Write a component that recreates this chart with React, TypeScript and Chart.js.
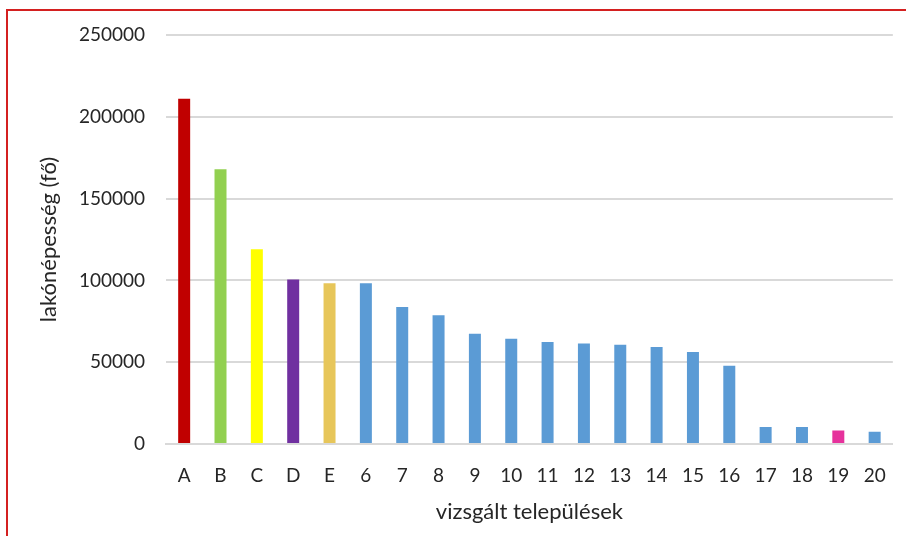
import React, { useEffect, useRef } from "react";
import { Chart, registerables } from "chart.js";

Chart.register(...registerables);

const categories = ["A", "B", "C", "D", "E", "6", "7", "8", "9", "10", "11", "12", "13", "14", "15", "16", "17", "18", "19", "20"];
const population = [211000, 168000, 119000, 100500, 98200, 98200, 83800, 78700, 67400, 64400, 62300, 61500, 60700, 59300, 56200, 47900, 10400, 10400, 8300, 7500];
const barColors = ["#C00000", "#92D050", "#FFFF00", "#7030A0", "#E7C65A", "#5B9BD5", "#5B9BD5", "#5B9BD5", "#5B9BD5", "#5B9BD5", "#5B9BD5", "#5B9BD5", "#5B9BD5", "#5B9BD5", "#5B9BD5", "#5B9BD5", "#5B9BD5", "#5B9BD5", "#E6329C", "#5B9BD5"];
const yTitle = "lakónépesség (fő)";
const xTitle = "vizsgált települések";
const yMax = 250000;
const yStep = 50000;

export default function App() {
  const ref = useRef<HTMLCanvasElement | null>(null);
  useEffect(() => {
    if (!ref.current) return;
    const font = "Lato";
    const chart = new Chart(ref.current, {
      type: "bar",
      data: {
        labels: categories,
        datasets: [
          {
            data: population,
            backgroundColor: barColors,
            borderWidth: 0,
            barPercentage: 0.33,
            categoryPercentage: 1,
          },
        ],
      },
      options: {
        responsive: false,
        animation: false,
        layout: { padding: { left: 0, right: 13, top: 35, bottom: 0 } },
        plugins: { legend: { display: false }, tooltip: { enabled: false } },
        scales: {
          x: {
            grid: { display: false, drawTicks: false },
            border: { display: true, color: "#D9D9D9", width: 2 },
            ticks: { padding: 20, color: "#262626", font: { family: font, size: 19 } },
            title: {
              display: true,
              text: xTitle,
              color: "#262626",
              font: { family: font, size: 22 },
              padding: { top: 0, bottom: 11 },
            },
            afterFit: (s: any) => {
              s.height = 92;
            },
          },
          y: {
            min: 0,
            max: yMax,
            grid: { color: "#D9D9D9", lineWidth: 2, drawTicks: false },
            border: { display: false },
            ticks: {
              stepSize: yStep,
              padding: 21,
              color: "#262626",
              font: { family: font, size: 19 },
              callback: (v: any) => String(v),
            },
            title: {
              display: true,
              text: yTitle,
              color: "#262626",
              font: { family: font, size: 22 },
              padding: { top: 36, bottom: 0 },
            },
            afterFit: (s: any) => {
              s.width = 166;
            },
          },
        },
      },
    });
    return () => chart.destroy();
  }, []);
  return (
    <div style={{ position: "fixed", left: 0, top: 0, width: 906, height: 536, background: "#fff", overflow: "hidden" }}>
      <canvas ref={ref} width={906} height={536} style={{ position: "absolute", left: 0, top: 0 }} />
      <div
        style={{
          position: "absolute",
          left: 6,
          top: 9,
          width: 1000,
          height: 1000,
          borderLeft: "2px solid #D42020",
          borderTop: "2px solid #D42020",
          pointerEvents: "none",
        }}
      />
    </div>
  );
}
